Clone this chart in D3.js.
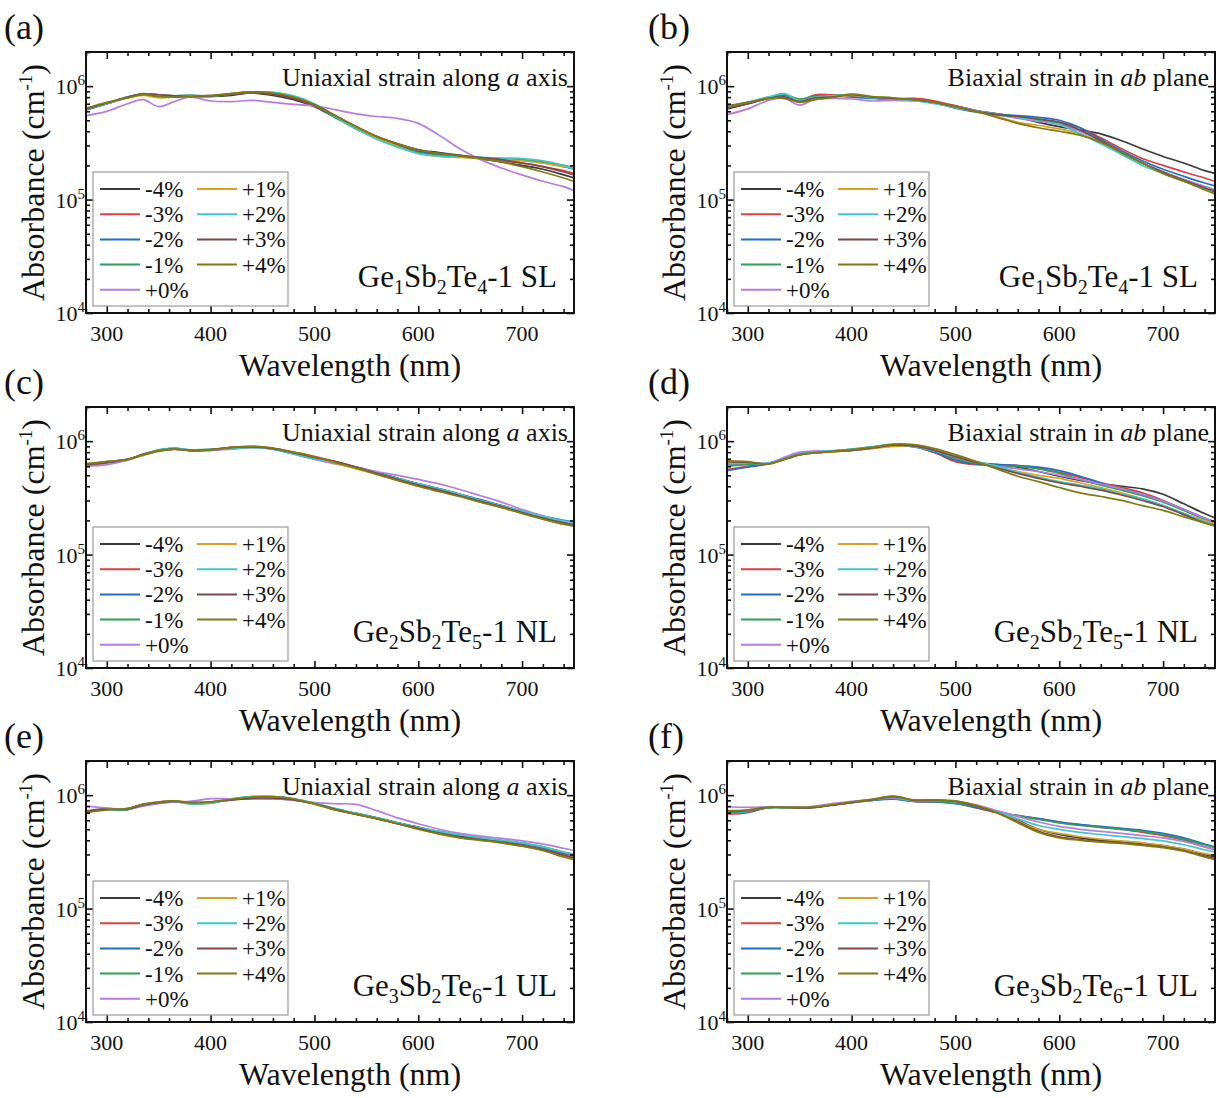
<!DOCTYPE html>
<html>
<head>
<meta charset="utf-8">
<script src="https://cdn.jsdelivr.net/npm/d3@7"></script>
<style>
  body { margin: 0; background: #fff; }
  svg text { font-family: "Liberation Serif", "Times New Roman", serif; fill: #111; }
</style>
</head>
<body>
<div id="chart"></div>
<script>
// wavelength grid (nm) shared by every curve
const wavelengths = [280, 300, 320, 335, 350, 365, 380, 400, 420, 440, 460, 480, 500,
  520, 540, 560, 580, 600, 620, 640, 660, 680, 700, 720, 740, 750];

const strains = ['-4%', '-3%', '-2%', '-1%', '+0%', '+1%', '+2%', '+3%', '+4%'];
const strainColors = ['#3a3a3a', '#d9403f', '#1f6fc9', '#2e9e5b', '#b57ddf',
  '#d9a322', '#3ec8c8', '#7d4a4a', '#7f7a12'];

const panelTags = ['(a)', '(b)', '(c)', '(d)', '(e)', '(f)'];
const strainModes = ['uni', 'bi', 'uni', 'bi', 'uni', 'bi'];
// [element, subscript] pairs, then suffix
const compounds = [
  [['Ge', '1'], ['Sb', '2'], ['Te', '4'], '-1 SL'],
  [['Ge', '1'], ['Sb', '2'], ['Te', '4'], '-1 SL'],
  [['Ge', '2'], ['Sb', '2'], ['Te', '5'], '-1 NL'],
  [['Ge', '2'], ['Sb', '2'], ['Te', '5'], '-1 NL'],
  [['Ge', '3'], ['Sb', '2'], ['Te', '6'], '-1 UL'],
  [['Ge', '3'], ['Sb', '2'], ['Te', '6'], '-1 UL'],
];

const xTicks = [300, 400, 500, 600, 700];
const yTicks = [1e4, 1e5, 1e6];

// absorbance, in units of 1e5 cm^-1, one row per strain (-4% ... +4%)
const absorbA = [
  [6.3, 7.1, 7.9, 8.5, 8.4, 8.2, 8.1, 8.1, 8.3, 8.7, 8.3, 7.6, 6.6, 5.3, 4.3, 3.6, 3.1, 2.75, 2.6, 2.45, 2.3, 2.15, 2.0, 1.85, 1.65, 1.55],
  [6.2, 7.0, 7.9, 8.4, 8.2, 8.1, 8.2, 8.2, 8.5, 8.7, 8.5, 7.8, 6.7, 5.4, 4.4, 3.6, 3.05, 2.7, 2.5, 2.4, 2.3, 2.2, 2.1, 1.95, 1.8, 1.7],
  [6.2, 7.0, 8.0, 8.5, 8.0, 8.2, 8.3, 8.2, 8.6, 8.8, 8.6, 7.9, 6.8, 5.4, 4.3, 3.5, 3.0, 2.65, 2.5, 2.42, 2.35, 2.28, 2.22, 2.1, 1.95, 1.85],
  [6.2, 7.0, 8.0, 8.5, 8.1, 8.2, 8.3, 8.1, 8.5, 8.8, 8.7, 8.0, 6.8, 5.3, 4.2, 3.5, 2.95, 2.6, 2.45, 2.4, 2.35, 2.3, 2.25, 2.15, 2.0, 1.9],
  [5.5, 6.0, 7.0, 7.6, 6.6, 7.3, 8.0, 7.4, 7.3, 7.5, 7.2, 6.9, 6.7, 6.2, 5.7, 5.4, 5.2, 4.7, 3.7, 2.8, 2.25, 1.9, 1.65, 1.45, 1.3, 1.2],
  [6.3, 7.1, 7.9, 8.3, 7.9, 8.0, 8.1, 8.1, 8.6, 8.9, 8.8, 8.1, 6.9, 5.5, 4.3, 3.5, 2.95, 2.55, 2.4, 2.35, 2.3, 2.25, 2.2, 2.1, 1.95, 1.9],
  [6.3, 7.0, 8.0, 8.6, 8.3, 8.1, 8.2, 8.2, 8.6, 8.9, 8.8, 8.2, 7.0, 5.4, 4.2, 3.4, 2.9, 2.55, 2.42, 2.38, 2.35, 2.32, 2.3, 2.2, 2.0, 1.85],
  [6.3, 7.1, 8.0, 8.5, 8.4, 8.2, 8.1, 8.2, 8.5, 8.8, 8.5, 7.8, 6.8, 5.5, 4.4, 3.6, 3.1, 2.75, 2.55, 2.45, 2.35, 2.25, 2.1, 1.95, 1.75, 1.65],
  [6.4, 7.2, 7.9, 8.4, 8.1, 8.0, 8.1, 8.3, 8.6, 8.9, 8.7, 8.0, 6.9, 5.5, 4.4, 3.6, 3.1, 2.75, 2.55, 2.42, 2.3, 2.15, 1.95, 1.75, 1.55, 1.45],
];

const absorbB = [
  [6.3, 7.0, 7.8, 8.0, 7.3, 7.9, 8.3, 8.3, 7.9, 7.6, 7.5, 7.2, 6.7, 6.1, 5.7, 5.3, 4.8, 4.4, 4.1, 3.8, 3.3, 2.8, 2.4, 2.1, 1.8, 1.7],
  [6.5, 7.0, 7.8, 7.9, 7.5, 8.4, 8.4, 8.2, 7.9, 7.7, 7.8, 7.4, 6.7, 6.0, 5.6, 5.4, 5.1, 4.8, 4.3, 3.5, 2.8, 2.3, 2.0, 1.75, 1.55, 1.45],
  [6.5, 7.1, 7.9, 8.3, 7.6, 8.1, 8.2, 8.0, 7.8, 7.7, 7.6, 7.1, 6.4, 5.9, 5.6, 5.5, 5.3, 5.0, 4.3, 3.4, 2.7, 2.2, 1.85, 1.6, 1.4, 1.32],
  [6.6, 7.2, 8.0, 8.4, 7.7, 8.2, 8.1, 8.4, 7.9, 7.7, 7.5, 7.1, 6.5, 6.0, 5.7, 5.4, 5.1, 4.7, 4.0, 3.3, 2.6, 2.1, 1.75, 1.5, 1.3, 1.22],
  [5.6, 6.3, 7.5, 7.8, 6.8, 7.7, 7.8, 7.7, 7.4, 7.5, 7.4, 7.1, 6.6, 6.1, 5.6, 5.2, 4.9, 4.6, 4.0, 3.3, 2.6, 2.1, 1.75, 1.5, 1.3, 1.2],
  [6.6, 7.1, 7.8, 7.9, 7.3, 7.7, 7.9, 8.3, 8.0, 7.8, 7.5, 7.1, 6.5, 6.0, 5.4, 4.8, 4.5, 4.2, 3.8, 3.2, 2.6, 2.1, 1.7, 1.45, 1.25, 1.15],
  [6.6, 7.2, 8.0, 8.6, 7.5, 8.0, 8.2, 8.4, 7.9, 7.7, 7.5, 7.0, 6.5, 6.0, 5.6, 5.3, 5.0, 4.6, 3.8, 3.1, 2.5, 2.0, 1.7, 1.45, 1.25, 1.18],
  [6.4, 7.0, 7.8, 8.0, 7.3, 7.9, 8.0, 8.4, 8.0, 7.8, 7.6, 7.2, 6.6, 6.0, 5.6, 5.4, 5.1, 4.8, 4.1, 3.3, 2.6, 2.1, 1.75, 1.48, 1.27, 1.18],
  [6.7, 7.2, 7.8, 7.8, 7.2, 7.6, 7.9, 8.5, 8.1, 7.9, 7.6, 7.2, 6.6, 6.0, 5.3, 4.7, 4.3, 4.0, 3.7, 3.2, 2.6, 2.1, 1.7, 1.45, 1.22, 1.12],
];

const absorbC = [
  [6.2, 6.5, 6.9, 7.6, 8.2, 8.5, 8.3, 8.4, 8.8, 8.9, 8.6, 7.9, 7.2, 6.6, 5.9, 5.3, 4.7, 4.2, 3.8, 3.4, 3.0, 2.7, 2.4, 2.15, 1.95, 1.9],
  [6.1, 6.4, 6.9, 7.6, 8.3, 8.6, 8.2, 8.3, 8.7, 8.9, 8.6, 7.9, 7.3, 6.6, 5.9, 5.2, 4.7, 4.2, 3.8, 3.4, 3.0, 2.7, 2.4, 2.15, 1.97, 1.92],
  [6.2, 6.5, 6.9, 7.7, 8.3, 8.7, 8.3, 8.4, 8.6, 8.8, 8.5, 7.7, 7.0, 6.5, 5.9, 5.3, 4.7, 4.2, 3.8, 3.4, 3.05, 2.7, 2.42, 2.18, 2.0, 1.95],
  [6.3, 6.6, 6.8, 7.6, 8.4, 8.6, 8.4, 8.5, 8.7, 8.9, 8.6, 7.8, 7.2, 6.5, 5.8, 5.2, 4.6, 4.1, 3.7, 3.35, 3.0, 2.68, 2.4, 2.15, 1.95, 1.9],
  [6.0, 6.2, 6.8, 7.5, 8.2, 8.5, 8.4, 8.3, 8.5, 8.8, 8.6, 7.7, 6.9, 6.3, 5.9, 5.4, 5.0, 4.6, 4.2, 3.75, 3.3, 2.9, 2.5, 2.2, 1.95, 1.88],
  [6.3, 6.6, 6.9, 7.5, 8.1, 8.5, 8.3, 8.4, 8.8, 9.0, 8.7, 8.0, 7.3, 6.4, 5.7, 5.1, 4.5, 4.0, 3.6, 3.25, 2.9, 2.6, 2.3, 2.05, 1.85, 1.8],
  [6.2, 6.6, 6.9, 7.6, 8.3, 8.7, 8.3, 8.4, 8.6, 8.8, 8.5, 7.7, 7.0, 6.5, 5.9, 5.2, 4.7, 4.2, 3.8, 3.4, 3.0, 2.7, 2.42, 2.17, 1.98, 1.93],
  [6.2, 6.5, 6.9, 7.6, 8.2, 8.5, 8.3, 8.4, 8.8, 8.9, 8.6, 7.9, 7.2, 6.6, 5.9, 5.2, 4.6, 4.1, 3.7, 3.3, 2.95, 2.65, 2.35, 2.1, 1.9, 1.82],
  [6.3, 6.6, 6.9, 7.6, 8.2, 8.5, 8.3, 8.4, 8.8, 9.0, 8.7, 8.0, 7.3, 6.5, 5.8, 5.1, 4.5, 4.0, 3.6, 3.25, 2.9, 2.6, 2.3, 2.05, 1.85, 1.78],
];

const absorbD = [
  [6.2, 6.3, 6.3, 6.9, 7.6, 7.9, 8.1, 8.3, 8.7, 9.1, 9.0, 8.1, 7.1, 6.5, 6.2, 5.9, 5.4, 4.9, 4.5, 4.2, 4.0, 3.8, 3.4, 2.8, 2.3, 2.1],
  [5.6, 6.0, 6.4, 7.0, 7.7, 8.0, 8.2, 8.4, 8.8, 9.2, 9.0, 7.9, 6.6, 6.2, 6.2, 6.1, 5.8, 5.3, 4.8, 4.3, 3.9, 3.5, 3.0, 2.5, 2.05, 1.9],
  [5.5, 5.9, 6.3, 7.0, 7.7, 8.0, 8.2, 8.4, 8.9, 9.2, 8.9, 8.0, 6.8, 6.3, 6.2, 6.1, 5.9, 5.5, 4.9, 4.3, 3.8, 3.4, 2.95, 2.5, 2.1, 1.95],
  [6.0, 6.2, 6.3, 7.0, 7.7, 8.0, 8.1, 8.5, 8.9, 9.3, 9.1, 8.2, 7.0, 6.4, 6.1, 6.0, 5.7, 5.2, 4.6, 4.1, 3.7, 3.3, 2.9, 2.45, 2.05, 1.9],
  [6.3, 6.4, 6.4, 7.2, 8.0, 8.2, 8.2, 8.3, 8.7, 9.1, 9.0, 8.2, 7.2, 6.5, 6.0, 5.7, 5.4, 5.0, 4.6, 4.2, 3.8, 3.4, 2.95, 2.5, 2.1, 1.95],
  [6.5, 6.5, 6.3, 6.9, 7.6, 7.9, 8.0, 8.3, 8.6, 9.0, 9.1, 8.4, 7.4, 6.6, 5.9, 5.4, 5.0, 4.7, 4.3, 3.9, 3.5, 3.1, 2.7, 2.3, 2.0, 1.85],
  [6.3, 6.4, 6.4, 7.0, 7.7, 8.0, 8.2, 8.4, 8.9, 9.3, 9.0, 8.2, 7.3, 6.6, 6.0, 5.3, 4.8, 4.4, 4.1, 3.8, 3.4, 3.1, 2.7, 2.3, 1.95, 1.82],
  [6.6, 6.5, 6.3, 6.9, 7.6, 7.9, 8.1, 8.3, 8.7, 9.2, 9.1, 8.3, 7.3, 6.5, 5.8, 5.2, 4.7, 4.3, 4.0, 3.7, 3.35, 3.0, 2.65, 2.25, 1.9, 1.8],
  [6.7, 6.6, 6.3, 6.9, 7.6, 7.9, 8.1, 8.4, 8.8, 9.4, 9.3, 8.6, 7.6, 6.6, 5.7, 4.9, 4.4, 3.9, 3.5, 3.25, 3.0, 2.7, 2.45, 2.15, 1.9, 1.78],
];

const absorbE = [
  [7.2, 7.6, 7.5, 8.2, 8.6, 8.8, 8.6, 8.7, 9.1, 9.3, 9.3, 9.1, 8.4, 7.5, 6.8, 6.2, 5.6, 5.1, 4.6, 4.3, 4.05, 3.85, 3.6, 3.3, 2.95, 2.8],
  [7.1, 7.5, 7.6, 8.3, 8.6, 8.9, 8.5, 8.6, 9.2, 9.5, 9.5, 9.2, 8.4, 7.5, 6.9, 6.3, 5.7, 5.2, 4.7, 4.35, 4.1, 3.9, 3.7, 3.4, 3.05, 2.9],
  [7.2, 7.5, 7.6, 8.3, 8.7, 8.9, 8.5, 8.6, 9.2, 9.6, 9.6, 9.2, 8.4, 7.5, 6.9, 6.3, 5.7, 5.2, 4.75, 4.4, 4.15, 3.95, 3.75, 3.45, 3.1, 2.95],
  [7.2, 7.5, 7.5, 8.3, 8.6, 8.8, 8.4, 8.5, 9.2, 9.7, 9.7, 9.3, 8.5, 7.6, 6.9, 6.3, 5.7, 5.2, 4.8, 4.45, 4.2, 4.0, 3.8, 3.5, 3.15, 3.0],
  [8.0, 7.7, 7.5, 8.0, 8.4, 8.7, 8.8, 9.3, 9.3, 9.4, 9.3, 9.0, 8.6, 8.4, 8.3, 7.3, 6.3, 5.6, 5.0, 4.6, 4.35, 4.15, 3.95, 3.7, 3.4, 3.25],
  [7.1, 7.5, 7.6, 8.3, 8.7, 8.9, 8.6, 8.7, 9.2, 9.6, 9.6, 9.2, 8.3, 7.4, 6.8, 6.2, 5.6, 5.0, 4.55, 4.2, 4.0, 3.8, 3.55, 3.25, 2.9, 2.75],
  [7.3, 7.4, 7.4, 8.3, 8.6, 8.8, 8.4, 8.5, 9.2, 9.7, 9.7, 9.3, 8.5, 7.6, 6.9, 6.3, 5.7, 5.2, 4.8, 4.45, 4.2, 4.0, 3.8, 3.5, 3.15, 3.0],
  [7.2, 7.5, 7.5, 8.2, 8.6, 8.8, 8.6, 8.7, 9.1, 9.4, 9.4, 9.1, 8.4, 7.5, 6.8, 6.2, 5.6, 5.1, 4.6, 4.3, 4.05, 3.85, 3.6, 3.3, 2.95, 2.8],
  [7.0, 7.4, 7.6, 8.3, 8.7, 8.9, 8.6, 8.7, 9.2, 9.6, 9.7, 9.3, 8.4, 7.4, 6.8, 6.2, 5.6, 5.0, 4.55, 4.2, 4.0, 3.8, 3.55, 3.25, 2.85, 2.7],
];

const absorbF = [
  [7.0, 7.2, 7.8, 7.8, 7.7, 7.8, 8.2, 8.7, 9.1, 9.5, 9.0, 8.9, 8.6, 7.9, 7.0, 6.0, 5.0, 4.5, 4.2, 4.0, 3.9, 3.75, 3.6, 3.35, 3.0, 2.85],
  [6.8, 7.0, 7.8, 7.8, 7.7, 7.9, 8.2, 8.6, 9.0, 9.3, 8.8, 8.7, 8.5, 7.7, 7.0, 6.6, 6.2, 5.8, 5.5, 5.2, 5.0, 4.7, 4.4, 4.0, 3.5, 3.3],
  [6.9, 7.1, 7.8, 7.9, 7.8, 7.9, 8.2, 8.7, 9.0, 9.2, 8.8, 8.7, 8.4, 7.8, 7.1, 6.6, 6.2, 5.8, 5.5, 5.3, 5.1, 4.9, 4.6, 4.2, 3.7, 3.5],
  [7.1, 7.3, 7.7, 7.8, 7.8, 7.9, 8.2, 8.7, 9.1, 9.4, 8.9, 8.8, 8.5, 7.9, 7.1, 6.6, 6.1, 5.7, 5.4, 5.2, 5.0, 4.8, 4.5, 4.1, 3.65, 3.45],
  [7.9, 7.8, 7.9, 7.8, 7.8, 8.0, 8.4, 8.8, 9.2, 9.4, 9.0, 9.0, 8.8, 8.2, 7.3, 6.5, 5.8, 5.3, 5.0, 4.8, 4.6, 4.4, 4.2, 3.9, 3.5, 3.35],
  [7.2, 7.4, 7.8, 7.8, 7.8, 7.9, 8.2, 8.6, 9.1, 9.8, 9.0, 9.0, 8.8, 8.1, 7.1, 5.9, 5.0, 4.6, 4.3, 4.1, 3.95, 3.8, 3.6, 3.35, 3.05, 2.95],
  [7.0, 7.2, 7.9, 7.7, 7.7, 7.9, 8.2, 8.6, 9.1, 9.6, 8.9, 8.9, 8.7, 8.0, 7.1, 6.2, 5.4, 5.0, 4.7, 4.5, 4.3, 4.15, 3.95, 3.65, 3.3, 3.15],
  [7.1, 7.3, 7.8, 7.8, 7.7, 7.8, 8.1, 8.6, 9.1, 9.7, 9.0, 9.0, 8.8, 8.0, 7.0, 5.8, 4.8, 4.3, 4.05, 3.9, 3.8, 3.65, 3.5, 3.25, 2.9, 2.75],
  [7.3, 7.4, 7.8, 7.8, 7.8, 7.9, 8.2, 8.7, 9.2, 9.8, 9.1, 9.1, 8.9, 8.1, 7.0, 5.7, 4.7, 4.2, 4.0, 3.85, 3.75, 3.6, 3.45, 3.2, 2.85, 2.7],
];

const panelData = [absorbA, absorbB, absorbC, absorbD, absorbE, absorbF];

const props = {
  width: 1225,
  height: 1098,
  colOffset: [0, 641],
  rowOffset: [0, 355, 709],
  box: { left: 86, right: 574, top: 52, bottom: 313 },
  xDomain: [280, 750],
  yDomain: [1e4, 2e6],
  lineWidth: 1.7,
};

const svg = d3.select('#chart')
  .append('svg')
  .attr('width', props.width)
  .attr('height', props.height);

const x = d3.scaleLinear().domain(props.xDomain).range([props.box.left, props.box.right]);
const y = d3.scaleLog().domain(props.yDomain).range([props.box.bottom, props.box.top]);

const minorX = d3.range(280, 751, 20).filter((d) => d % 100 !== 0);
const minorY = [];
[1e4, 1e5, 1e6].forEach((dec) => {
  for (let k = 2; k <= 9; k++) if (dec * k <= props.yDomain[1]) minorY.push(dec * k);
});

const line = d3.line()
  .x((d) => x(d[0]))
  .y((d) => y(d[1] * 1e5))
  .curve(d3.curveCatmullRom.alpha(0.5));

function drawPanel(i) {
  const col = i % 2;
  const row = Math.floor(i / 2);
  const { box } = props;
  const g = svg.append('g')
    .attr('class', 'panel')
    .attr('transform', `translate(${props.colOffset[col]},${props.rowOffset[row]})`);

  g.append('clipPath').attr('id', `clip-${i}`)
    .append('rect')
    .attr('x', box.left).attr('y', box.top)
    .attr('width', box.right - box.left).attr('height', box.bottom - box.top);

  // curves
  g.append('g').attr('class', 'curves').attr('clip-path', `url(#clip-${i})`)
    .selectAll('path')
    .data(panelData[i])
    .join('path')
    .attr('d', (vals) => line(vals.map((v, j) => [wavelengths[j], v])))
    .style('fill', 'none')
    .style('stroke', (d, k) => strainColors[k])
    .style('stroke-width', props.lineWidth);

  // inward ticks on all four sides
  const addAxis = (axis, tr) => {
    const a = g.append('g').attr('transform', tr).call(axis);
    a.select('.domain').remove();
    a.selectAll('line').style('stroke', '#111').style('stroke-width', 1.6);
    a.selectAll('text').remove();
  };
  addAxis(d3.axisBottom(x).tickValues(xTicks).tickSize(-7), `translate(0,${box.bottom})`);
  addAxis(d3.axisBottom(x).tickValues(minorX).tickSize(-4), `translate(0,${box.bottom})`);
  addAxis(d3.axisTop(x).tickValues(xTicks).tickSize(-7), `translate(0,${box.top})`);
  addAxis(d3.axisTop(x).tickValues(minorX).tickSize(-4), `translate(0,${box.top})`);
  addAxis(d3.axisLeft(y).tickValues(yTicks).tickSize(-7), `translate(${box.left},0)`);
  addAxis(d3.axisLeft(y).tickValues(minorY).tickSize(-4), `translate(${box.left},0)`);
  addAxis(d3.axisRight(y).tickValues(yTicks).tickSize(-7), `translate(${box.right},0)`);
  addAxis(d3.axisRight(y).tickValues(minorY).tickSize(-4), `translate(${box.right},0)`);

  g.append('rect')
    .attr('x', box.left).attr('y', box.top)
    .attr('width', box.right - box.left).attr('height', box.bottom - box.top)
    .style('fill', 'none').style('stroke', '#111').style('stroke-width', 2);

  // tick labels
  g.append('g').selectAll('text')
    .data(xTicks)
    .join('text')
    .attr('x', (d) => x(d))
    .attr('y', box.bottom + 28)
    .attr('text-anchor', 'middle')
    .style('font-size', '22px')
    .text((d) => d);

  const yl = g.append('g').selectAll('text')
    .data(yTicks)
    .join('text')
    .attr('x', box.left - 1)
    .attr('y', (d) => y(d) + 8)
    .attr('text-anchor', 'end')
    .style('font-size', '22px');
  yl.append('tspan').text('10');
  yl.append('tspan').attr('dy', -9).style('font-size', '15px').text((d) => Math.round(Math.log10(d)));

  // axis titles
  g.append('text')
    .attr('x', (box.left + box.right) / 2 + 20)
    .attr('y', box.bottom + 63)
    .attr('text-anchor', 'middle')
    .style('font-size', '32px')
    .text('Wavelength (nm)');

  const yt = g.append('text')
    .attr('transform', `translate(${box.left - 42},${(box.top + box.bottom) / 2}) rotate(-90)`)
    .attr('text-anchor', 'middle')
    .style('font-size', '32px');
  yt.append('tspan').text('Absorbance (cm');
  yt.append('tspan').attr('dy', -12).style('font-size', '19px').text('-1');
  yt.append('tspan').attr('dy', 12).text(')');

  // panel tag
  g.append('text')
    .attr('x', col === 0 ? 4 : 7)
    .attr('y', 39)
    .style('font-size', '36px')
    .text(panelTags[i]);

  // strain note, top right
  const note = g.append('text')
    .attr('x', box.right - 6)
    .attr('y', box.top + 34)
    .attr('text-anchor', 'end')
    .style('font-size', '26px');
  if (strainModes[i] === 'uni') {
    note.append('tspan').text('Uniaxial strain along ');
    note.append('tspan').style('font-style', 'italic').text('a');
    note.append('tspan').text(' axis');
  } else {
    note.append('tspan').text('Biaxial strain in ');
    note.append('tspan').style('font-style', 'italic').text('ab');
    note.append('tspan').text(' plane');
  }

  // compound label, bottom right
  const comp = g.append('text')
    .attr('x', box.right - 17)
    .attr('y', box.bottom - 26)
    .attr('text-anchor', 'end')
    .style('font-size', '31px');
  const parts = compounds[i];
  parts.slice(0, 3).forEach(([el, sub], k) => {
    comp.append('tspan').attr('dy', k === 0 ? 0 : -7).text(el);
    comp.append('tspan').attr('dy', 7).style('font-size', '20px').text(sub);
  });
  comp.append('tspan').attr('dy', -7).text(parts[3]);

  // legend
  const lg = g.append('g').attr('transform', `translate(${box.left + 7},${box.bottom - 141})`);
  lg.append('rect')
    .attr('width', 195).attr('height', 134)
    .style('fill', '#fff').style('stroke', '#9a9a9a').style('stroke-width', 1.2);
  const items = lg.selectAll('g.item')
    .data(strains)
    .join('g')
    .attr('class', 'item')
    .attr('transform', (d, k) => `translate(${k < 5 ? 7 : 104},${17 + (k < 5 ? k : k - 5) * 25.2})`);
  items.append('line')
    .attr('x1', 0).attr('x2', 40)
    .style('stroke', (d, k) => strainColors[k])
    .style('stroke-width', 2);
  items.append('text')
    .attr('x', 45).attr('y', 8)
    .style('font-size', '23px')
    .text((d) => d);
}

d3.range(6).forEach(drawPanel);
</script>
</body>
</html>
